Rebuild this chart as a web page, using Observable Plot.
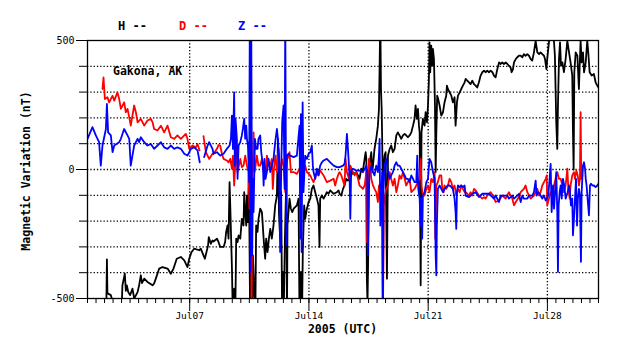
<!DOCTYPE html>
<html><head><meta charset="utf-8">
<script src="https://cdn.jsdelivr.net/npm/d3@7"></script>
<script src="https://cdn.jsdelivr.net/npm/@observablehq/plot@0.6"></script>
<style>
body{margin:0;background:#fff;}
#chart{position:relative;width:638px;height:359px;}
</style>
</head><body><div id="chart"></div>
<script>
// ---- data (days since 2005-07-01 00:00 UTC, nT) ----
const seriesNames = ["H", "D", "Z"];
const seriesColors = ["#000000", "#ff0000", "#0000ff"];
const titleText = "Gakona, AK";
const yLabel = "Magnetic Variation (nT)";
const xLabel = "2005 (UTC)";
const yDomain = [-500, 500];
const yLabeledTicks = [-500, 0, 500];
const yMinorTicks = [-400, -300, -200, -100, 100, 200, 300, 400];
const yGrid = [-400, -300, -200, -100, 0, 100, 200, 300, 400];
const xDomainDays = [0, 30];
const xMajorDays = [6, 13, 20, 27];
const xMajorLabels = ["Jul07", "Jul14", "Jul21", "Jul28"];

const H = [
[1.10,-560],[1.14,-348],[1.17,-481],[1.21,-481],[1.37,-487],[1.47,-510],[1.57,-540],[1.90,-540],[2.02,-510],[2.05,-449],[2.19,-404],[2.25,-470],[2.31,-449],[2.39,-475],[2.50,-487],[2.64,-462],[2.74,-500],[2.94,-475],[3.03,-449],[3.13,-410],[3.20,-440],[3.33,-423],[3.52,-436],[3.82,-449],[3.91,-442],[4.01,-423],[4.21,-384],[4.40,-378],[4.70,-384],[4.89,-404],[5.05,-384],[5.24,-346],[5.48,-339],[5.68,-352],[5.87,-378],[5.97,-346],[6.11,-320],[6.26,-307],[6.56,-313],[6.65,-307],[6.89,-346],[7.08,-294],[7.12,-262],[7.24,-288],[7.34,-275],
[7.40,-279],[7.60,-268],[7.69,-281],[7.79,-300],[7.99,-300],[8.08,-281],[8.14,-242],[8.22,-217],[8.28,-268],[8.34,-49],[8.38,-139],[8.48,-384],[8.54,-600],[8.61,-462],[8.67,-600],[8.73,-268],[8.81,-281],[8.87,-255],[8.97,-268],[9.06,-191],[9.16,-217],[9.20,-88],[9.26,-165],[9.32,-217],[9.36,-101],[9.42,-204],[9.47,-10],[9.51,-268],[9.55,-600],[9.61,-397],[9.67,-600],[9.71,-333],[9.75,-397],[9.85,-600],[9.90,-217],[9.98,-242],[10.04,-191],[10.14,-152],[10.24,-165],[10.34,-268],[10.43,-346],[10.49,-268],[10.57,-320],[10.65,-268],[10.73,-230],[10.82,-268],[10.92,-217],[11.02,-139],[11.12,-101],[11.18,119],[11.24,-165],[11.31,-268],[11.37,-88],[11.43,-600],[11.47,-397],[11.51,-600],[11.59,-268],[11.67,-36],[11.71,-600],[11.74,-217],[11.80,-165],[11.86,-113],[11.94,-152],[12.02,-165],[12.10,-152],[12.19,-146],[12.29,-139],[12.39,-113],[12.45,-600],[12.53,-397],[12.59,-600],[12.64,-320],[12.72,-139],[12.78,-191],[12.88,-152],[12.98,-126],[13.08,-113],[13.17,-75],[13.27,-62],[13.37,-88],[13.47,-113],[13.56,-139],[13.62,-300],[13.66,-113],[13.76,-101],[13.86,-113],[13.96,-101],[14.05,-88],[14.15,-94],[14.25,-81],[14.35,-88],[14.45,-94],[14.64,-88],[14.74,-81],
[14.80,-94],[14.90,-101],[15.00,-75],[15.09,-62],[15.19,-36],[15.29,-43],[15.39,-36],[15.48,-23],[15.58,-10],[15.68,-17],[15.78,-10],[15.88,-23],[15.97,-36],[16.07,3],[16.17,-4],[16.27,41],[16.33,67],[16.37,41],[16.40,-423],[16.44,-520],[16.48,-333],[16.52,-10],[16.60,41],[16.66,67],[16.72,-10],[16.76,15],[16.85,80],[16.95,119],[17.05,170],[17.11,235],[17.15,402],[17.19,600],[17.23,312],[17.27,235],[17.30,119],[17.34,-139],[17.38,15],[17.44,54],[17.50,67],[17.58,-423],[17.64,54],[17.74,80],[17.83,93],[17.93,67],[18.03,80],[18.13,132],[18.22,144],[18.32,132],[18.42,119],[18.52,132],[18.62,138],[18.71,132],[18.81,125],[18.91,132],[19.01,144],[19.11,170],[19.20,196],[19.26,248],[19.34,196],[19.40,235],[19.46,170],[19.50,144],[19.56,-449],[19.61,144],[19.69,196],[19.79,170],[19.85,222],[19.93,183],[19.99,248],[20.04,338],[20.08,493],[20.12,377],[20.18,480],[20.24,402],[20.28,467],[20.34,428],[20.40,248],[20.44,-10],[20.48,144],[20.53,286],[20.59,273],[20.67,248],[20.77,209],[20.87,222],[20.96,260],[21.06,286],[21.10,325],[21.16,312],[21.26,299],[21.36,286],[21.45,260],[21.55,280],[21.61,170],[21.69,260],[21.75,286],[21.85,299],[21.94,312],[22.04,325],[22.14,338],
[22.20,351],[22.30,344],[22.40,338],[22.49,331],[22.59,344],[22.69,331],[22.79,325],[22.88,318],[22.98,338],[23.08,364],[23.18,377],[23.28,383],[23.37,377],[23.47,383],[23.57,377],[23.67,383],[23.77,377],[23.86,364],[23.96,357],[24.06,389],[24.16,415],[24.25,409],[24.35,415],[24.45,409],[24.55,415],[24.65,409],[24.74,402],[24.84,396],[24.90,377],[24.98,389],[25.04,415],[25.14,428],[25.23,435],[25.33,441],[25.43,441],[25.53,435],[25.62,447],[25.72,441],[25.82,447],[25.92,441],[26.02,428],[26.11,422],[26.21,454],[26.31,499],[26.35,480],[26.41,454],[26.51,447],[26.60,454],[26.70,447],[26.80,441],[26.86,428],[26.94,389],[26.99,428],[27.05,467],[27.09,493],[27.19,520],[27.33,520],[27.39,493],[27.44,441],[27.48,312],[27.52,183],[27.58,80],[27.62,248],[27.68,428],[27.74,493],[27.80,402],[27.88,415],[27.97,377],[28.07,428],[28.17,499],[28.27,454],[28.36,415],[28.46,364],[28.50,150],[28.54,0],[28.58,377],[28.66,454],[28.76,441],[28.85,312],[28.91,428],[28.95,499],[29.01,415],[29.09,454],[29.15,377],[29.25,415],[29.34,499],[29.40,454],[29.48,377],[29.60,364],[29.73,370],[29.83,338],[29.93,325],[30.00,318]
];

const D = [
[0.88,312],[0.94,357],[1.02,273],[1.17,280],[1.27,260],[1.47,286],[1.57,267],[1.76,299],[1.86,273],[1.96,235],[2.15,260],[2.25,222],[2.35,235],[2.45,202],[2.54,170],[2.74,248],[2.84,222],[2.94,183],[3.13,196],[3.33,170],[3.52,190],[3.72,196],[3.82,183],[3.91,157],[4.11,151],[4.31,170],[4.50,144],[4.70,170],[4.89,125],[5.09,119],[5.28,132],[5.48,119],[5.77,138],[5.87,119],[5.97,80],[6.16,93],[6.36,86],[6.46,99],[6.58,74],[6.70,null],[6.81,129],[6.95,67],[7.14,41],[7.34,61],
[7.40,61],[7.60,80],[7.69,95],[7.79,93],[7.89,61],[7.99,41],[8.18,35],[8.28,28],[8.38,41],[8.48,3],[8.54,54],[8.61,-62],[8.67,15],[8.73,93],[8.81,-10],[8.89,15],[8.97,41],[9.06,9],[9.16,15],[9.26,54],[9.36,15],[9.45,-10],[9.51,-152],[9.55,54],[9.59,600],[9.63,-600],[9.67,-75],[9.75,144],[9.81,-10],[9.87,15],[9.94,54],[10.04,15],[10.14,15],[10.24,41],[10.34,-10],[10.43,-36],[10.53,54],[10.63,28],[10.73,15],[10.82,41],[10.88,-75],[10.96,15],[11.04,54],[11.12,-10],[11.22,80],[11.31,-36],[11.41,41],[11.51,15],[11.61,-88],[11.67,15],[11.74,41],[11.86,67],[11.94,-10],[12.10,-10],[12.29,-17],[12.45,3],[12.53,-49],[12.59,80],[12.68,-10],[12.78,15],[12.88,-10],[13.08,-23],[13.17,-36],[13.27,-49],[13.37,-30],[13.47,-10],[13.56,-23],[13.66,-4],[13.86,-23],[14.05,-49],[14.25,-43],[14.45,-36],[14.54,-62],[14.64,-36],[14.74,-17],
[14.80,-10],[14.90,-23],[15.00,-43],[15.09,-62],[15.15,41],[15.23,-10],[15.35,-36],[15.43,15],[15.58,-10],[15.68,-23],[15.78,-10],[15.88,-36],[15.97,-62],[16.07,-68],[16.17,-75],[16.27,-62],[16.37,-10],[16.40,-281],[16.46,-139],[16.52,41],[16.60,15],[16.66,-36],[16.76,-62],[16.85,-75],[16.95,-88],[17.05,-126],[17.11,-62],[17.15,-113],[17.25,-88],[17.30,-191],[17.34,-600],[17.40,-139],[17.46,-101],[17.54,-75],[17.64,-62],[17.74,-10],[17.83,-36],[17.93,-62],[18.03,-36],[18.13,-88],[18.22,-62],[18.32,-23],[18.42,-36],[18.52,-10],[18.62,-36],[18.71,-62],[18.81,-49],[18.91,-36],[19.01,-88],[19.11,-81],[19.20,-75],[19.30,-62],[19.40,-49],[19.50,-36],[19.56,41],[19.61,-62],[19.69,-101],[19.79,-101],[19.89,-75],[19.99,-62],[20.08,-88],[20.18,-36],[20.28,-49],[20.38,-10],[20.42,-268],[20.48,-62],[20.57,-49],[20.67,-23],[20.77,-23],[20.83,-75],[20.91,-88],[20.96,-62],[21.06,-75],[21.16,-62],[21.26,-36],[21.36,-49],[21.45,-75],[21.55,-62],[21.65,-101],[21.75,-75],[21.85,-88],[21.94,-62],[22.04,-75],[22.14,-88],
[22.20,-88],[22.30,-94],[22.40,-101],[22.49,-88],[22.59,-101],[22.69,-75],[22.79,-81],[22.98,-101],[23.18,-113],[23.28,-107],[23.37,-113],[23.47,-101],[23.67,-88],[23.86,-107],[23.96,-126],[24.16,-120],[24.35,-101],[24.55,-113],[24.74,-88],[24.94,-113],[25.04,-139],[25.14,-126],[25.33,-107],[25.43,-88],[25.62,-75],[25.72,-62],[25.82,-88],[26.02,-113],[26.21,-101],[26.41,-75],[26.51,-101],[26.60,-88],[26.70,-62],[26.80,-49],[26.90,-36],[26.96,-23],[26.99,-139],[27.09,-113],[27.19,-88],[27.29,-101],[27.39,-62],[27.48,-36],[27.58,-10],[27.68,-36],[27.78,-36],[27.88,-62],[27.97,-88],[28.07,-62],[28.17,3],[28.23,-75],[28.31,-113],[28.36,-62],[28.46,-23],[28.56,-10],[28.62,-36],[28.70,-4],[28.78,-23],[28.85,-62],[28.91,-36],[28.95,222],[28.99,-36],[29.05,-23]
];

const Z = [
[0.00,119],[0.29,164],[0.49,132],[0.68,106],[0.78,15],[0.88,93],[1.08,157],[1.14,254],[1.21,144],[1.37,132],[1.47,67],[1.57,93],[1.86,106],[1.96,119],[2.15,157],[2.35,132],[2.45,119],[2.54,15],[2.64,54],[2.74,93],[2.94,119],[3.03,106],[3.13,125],[3.33,106],[3.52,93],[3.72,99],[3.91,80],[4.11,93],[4.31,106],[4.50,86],[4.70,80],[4.89,93],[5.09,80],[5.28,86],[5.48,80],[5.68,61],[5.87,54],[6.07,80],[6.26,86],[6.46,74],[6.59,28],[6.70,null],[6.85,48],[7.05,93],[7.14,106],[7.34,80],
[7.40,61],[7.60,67],[7.79,54],[7.99,61],[8.18,80],[8.34,93],[8.42,119],[8.48,209],[8.54,80],[8.61,299],[8.65,15],[8.69,196],[8.77,119],[8.81,-36],[8.87,93],[8.97,106],[9.06,132],[9.12,157],[9.20,196],[9.26,119],[9.32,170],[9.36,119],[9.42,93],[9.49,-49],[9.53,600],[9.57,-397],[9.61,600],[9.67,-333],[9.71,-36],[9.75,-165],[9.83,119],[9.90,80],[9.98,80],[10.04,119],[10.14,132],[10.20,67],[10.30,15],[10.34,-62],[10.39,41],[10.45,-36],[10.53,-10],[10.63,41],[10.73,-10],[10.82,15],[10.92,41],[11.02,106],[11.12,157],[11.18,119],[11.24,54],[11.31,-320],[11.37,-10],[11.43,183],[11.51,248],[11.57,-75],[11.61,600],[11.67,-294],[11.71,54],[11.80,61],[11.90,54],[12.10,48],[12.29,54],[12.45,170],[12.49,-268],[12.53,215],[12.57,-320],[12.63,260],[12.68,-88],[12.78,54],[12.88,41],[12.98,61],[13.08,67],[13.17,93],[13.23,15],[13.27,-10],[13.37,-36],[13.47,3],[13.56,-23],[13.66,15],[13.76,28],[13.86,35],[14.05,41],[14.25,28],[14.45,15],[14.64,9],
[14.80,9],[15.00,15],[15.09,22],[15.15,54],[15.23,138],[15.29,80],[15.35,15],[15.39,-36],[15.43,-191],[15.48,-4],[15.58,3],[15.78,-4],[15.97,-4],[16.17,-10],[16.37,15],[16.42,-10],[16.46,-333],[16.52,-88],[16.56,-10],[16.66,15],[16.76,-10],[16.85,-23],[16.95,15],[17.05,-10],[17.11,54],[17.15,119],[17.19,-217],[17.25,-113],[17.30,-10],[17.34,-600],[17.38,-75],[17.44,15],[17.54,41],[17.64,-10],[17.74,-36],[17.83,-23],[17.93,-10],[18.03,15],[18.13,28],[18.22,15],[18.32,15],[18.42,3],[18.52,-10],[18.62,-23],[18.71,-36],[18.81,-36],[18.91,-49],[19.01,-23],[19.11,-36],[19.20,-49],[19.30,-49],[19.36,54],[19.42,-75],[19.50,-113],[19.56,-217],[19.59,-113],[19.65,-268],[19.69,-101],[19.79,-88],[19.89,-49],[19.99,-36],[20.08,41],[20.18,28],[20.28,-10],[20.38,-36],[20.44,-333],[20.48,-410],[20.51,-217],[20.57,-75],[20.67,-62],[20.77,-75],[20.87,-88],[20.96,-75],[21.06,-68],[21.16,-62],[21.26,-62],[21.36,-68],[21.45,-75],[21.55,-113],[21.61,-165],[21.65,-230],[21.69,-88],[21.75,-62],[21.85,-68],[21.94,-62],[22.04,-68],[22.14,-62],
[22.20,-101],[22.40,-107],[22.59,-94],[22.79,-88],[22.98,-107],[23.18,-94],[23.37,-94],[23.57,-94],[23.77,-107],[23.86,-113],[23.96,-101],[24.16,-126],[24.25,-101],[24.45,-101],[24.65,-101],[24.74,-113],[24.94,-101],[25.04,-113],[25.23,-101],[25.33,-94],[25.43,-126],[25.53,-101],[25.62,-113],[25.82,-113],[25.92,-101],[26.11,-101],[26.21,-88],[26.31,-43],[26.37,-101],[26.47,-88],[26.60,-101],[26.70,-113],[26.80,-101],[26.90,-120],[27.05,-101],[27.13,-36],[27.19,22],[27.25,-165],[27.33,-62],[27.39,-152],[27.44,-101],[27.52,-10],[27.58,-165],[27.62,-397],[27.66,-139],[27.72,-88],[27.78,-62],[27.84,-113],[27.91,-36],[27.99,-62],[28.07,-113],[28.13,-101],[28.19,-88],[28.27,-62],[28.33,-88],[28.38,-139],[28.46,-113],[28.50,-255],[28.56,-191],[28.62,-113],[28.68,-36],[28.74,-217],[28.79,-113],[28.85,-75],[28.91,-101],[28.97,-358],[29.01,-88],[29.05,-36],[29.09,15],[29.15,28],[29.21,3],[29.25,-36],[29.30,-62],[29.36,-113],[29.44,-178],[29.50,-62],[29.56,-55],[29.64,-62],[29.73,-62],[29.83,-68],[29.93,-62],[30.00,-55]
];

// ---- build ----
const t0 = Date.UTC(2005, 6, 1);
const toDate = d => new Date(t0 + d * 864e5);
const rows = arr => arr.map(([d, v]) => ({t: toDate(d), v}));
const seriesData = [H, D, Z].map(rows);

const font = "'DejaVu Sans Mono', 'Liberation Mono', monospace";
const majorDates = xMajorDays.map(toDate);
const minorDates = d3.range(xDomainDays[0], xDomainDays[1] + 0.001, 0.5).map(toDate);

const plot = Plot.plot({
  width: 638,
  height: 359,
  marginLeft: 87,
  marginRight: 40,
  marginTop: 40,
  marginBottom: 61,
  style: {fontFamily: font, background: "#fff", color: "#000"},
  x: {type: "utc", domain: xDomainDays.map(toDate)},
  y: {domain: yDomain},
  marks: [
    Plot.ruleY(yGrid, {stroke: "#000", strokeDasharray: "1.3,2", strokeWidth: 1.3}),
    Plot.ruleX(majorDates, {stroke: "#000", strokeDasharray: "1.3,2", strokeWidth: 1.3}),
    ...seriesData.map((data, i) => Plot.line(data, {x: "t", y: "v", stroke: seriesColors[i], strokeWidth: 1.8, clip: true, curve: "linear"})),
    Plot.axisY({ticks: yMinorTicks, tickSize: 8, tickFormat: () => "", label: null, stroke: "#000"}),
    Plot.axisY({ticks: yLabeledTicks, tickSize: 11, tickPadding: 2, tickFormat: d => String(d), label: null, fontSize: 10, stroke: "#000"}),
    Plot.axisX({ticks: minorDates, tickSize: 5, tickFormat: () => "", label: null, stroke: "#000"}),
    Plot.axisX({ticks: majorDates, tickSize: 13, tickPadding: 1, tickFormat: (d, i) => xMajorLabels[i], label: null, fontSize: 9.5, stroke: "#000"}),
    Plot.frame({stroke: "#000", strokeWidth: 1.3})
  ]
});

document.getElementById("chart").appendChild(plot);

// texts
const svg = d3.select(plot);
const addText = (x, y, str, color, anchor, transform) => {
  const t = svg.append("text")
    .attr("text-anchor", anchor)
    .attr("font-family", font).attr("font-size", 11.5).attr("font-weight", "bold")
    .attr("fill", color).text(str);
  if (transform) t.attr("transform", transform); else t.attr("x", x).attr("y", y);
  return t;
};
const legendX = [118, 179, 238];
seriesNames.forEach((n, i) => addText(legendX[i], 29.5, n + " --", seriesColors[i], "start").attr("font-size", 12));
addText(113, 75, titleText, "#000", "start");
addText(342.5, 332.5, xLabel, "#000", "middle");
addText(0, 0, yLabel, "#000", "middle", "translate(30,171) rotate(-90)");
</script>
</body></html>
